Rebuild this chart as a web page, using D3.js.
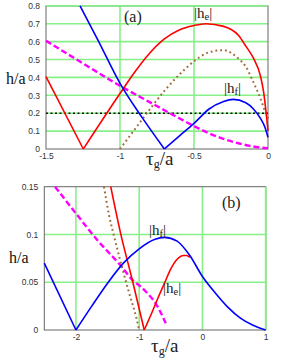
<!DOCTYPE html>
<html><head><meta charset="utf-8">
<script src="https://cdn.jsdelivr.net/npm/d3@7"></script>
<style>body{margin:0;background:#fff}svg{display:block}</style>
</head><body><svg id="c" width="286" height="361"></svg>
<script>
// ---- Panel (a) data ----
const aXTicks = [-1.5, -1, -0.5, 0];
const aXTickLabels = ["-1.5", "-1", "-0.5", "0"];
const aYTicks = [0, 0.1, 0.2, 0.3, 0.4, 0.5, 0.6, 0.7, 0.8];
const aYTickLabels = ["0", "0.1", "0.2", "0.3", "0.4", "0.5", "0.6", "0.7", "0.8"];
const aXGrid = [-1, -0.5];
const aYGrid = [0.1, 0.2, 0.3, 0.4, 0.5, 0.6, 0.7, 0.8];

const aRedX = [-1.5, -1.248, -1.0, -0.9, -0.8, -0.7, -0.6, -0.5, -0.42, -0.3, -0.2, -0.15, -0.1, -0.05, -0.03, 0];
const aRedY = [0.404, 0, 0.31, 0.43, 0.535, 0.615, 0.665, 0.69, 0.70, 0.685, 0.635, 0.575, 0.51, 0.405, 0.32, 0.1];

const aBlueX = [-1.27, -1.15, -1.0, -0.85, -0.70, -0.6, -0.5, -0.4, -0.3, -0.236, -0.15, -0.1, -0.05, -0.02, 0];
const aBlueY = [0.8, 0.61, 0.367, 0.175, 0, 0.072, 0.143, 0.222, 0.265, 0.277, 0.258, 0.225, 0.17, 0.12, 0.065];

const aMagX = [-1.5, -1.25, -1.0, -0.8, -0.6, -0.5, -0.4, -0.3, -0.2, -0.1, 0];
const aMagY = [0.605, 0.478, 0.353, 0.262, 0.172, 0.128, 0.088, 0.056, 0.032, 0.014, 0.004];

const aBrownX = [-1.0, -0.9, -0.8, -0.7, -0.6, -0.5, -0.4, -0.3, -0.2, -0.15, -0.1, -0.05, -0.02, 0];
const aBrownY = [0, 0.11, 0.22, 0.325, 0.415, 0.49, 0.54, 0.552, 0.505, 0.46, 0.375, 0.28, 0.21, 0.17];

const aBlackX = [-1.5, 0];
const aBlackY = [0.2, 0.2];

// ---- Panel (b) data ----
const bXTicks = [-2, -1, 0, 1];
const bXTickLabels = ["-2", "-1", "0", "1"];
const bYTicks = [0, 0.05, 0.1, 0.15];
const bYTickLabels = ["0", "0.05", "0.1", "0.15"];
const bXGrid = [-2, -1, 0, 1];
const bYGrid = [0.05, 0.1];

const bBlueX = [-2.5, -2.0, -1.75, -1.5, -1.25, -1.0, -0.75, -0.6, -0.4, -0.2, 0, 0.2, 0.4, 0.6, 0.8, 1.0];
const bBlueY = [0.07, 0, 0.025, 0.049, 0.07, 0.085, 0.095, 0.097, 0.093, 0.078, 0.056, 0.039, 0.024, 0.0125, 0.005, 0];

const bRedX = [-1.45, -1.3, -1.1, -0.92, -0.8, -0.7, -0.6, -0.5, -0.4, -0.3, -0.25, -0.2];
const bRedY = [0.15, 0.103, 0.05, 0, 0.018, 0.034, 0.049, 0.064, 0.074, 0.078, 0.078, 0.076];

const bMagX = [-2.33, -2.0, -1.66, -1.3, -1.1, -0.97, -0.85, -0.75, -0.65, -0.58];
const bMagY = [0.15, 0.122, 0.094, 0.068, 0.052, 0.045, 0.037, 0.029, 0.017, 0.007];

const bBrownX = [-1.556, -1.476, -1.4, -1.32, -1.26, -1.16, -1.05, -1.0];
const bBrownY = [0.15, 0.12, 0.099, 0.078, 0.063, 0.039, 0.014, 0];

// ---- drawing ----
const svg = d3.select("#c");
const GREEN = "#88f088", FRAME = "#666";

function splitAtMin(xs, ys) {
  const segs = []; let cur = [];
  xs.forEach((x, i) => {
    cur.push([x, ys[i]]);
    if (ys[i] === 0 && i > 0 && i < xs.length - 1) { segs.push(cur); cur = [[x, ys[i]]]; }
  });
  segs.push(cur);
  return segs;
}

function panel(cfg) {
  const x = d3.scaleLinear().domain(cfg.xd).range([cfg.l, cfg.r]);
  const y = d3.scaleLinear().domain(cfg.yd).range([cfg.b, cfg.t]);
  const g = svg.append("g");
  g.selectAll(".hg").data(cfg.yGrid).enter().append("line")
    .attr("x1", cfg.l).attr("x2", cfg.r).attr("y1", d => y(d)).attr("y2", d => y(d))
    .attr("stroke", GREEN).attr("stroke-width", 1.6);
  g.selectAll(".vg").data(cfg.xGrid).enter().append("line")
    .attr("y1", cfg.t).attr("y2", cfg.b).attr("x1", d => x(d)).attr("x2", d => x(d))
    .attr("stroke", GREEN).attr("stroke-width", 1.6);
  g.append("rect").attr("x", cfg.l).attr("y", cfg.t).attr("width", cfg.r - cfg.l).attr("height", cfg.b - cfg.t)
    .attr("fill", "none").attr("stroke", FRAME).attr("stroke-width", 1);
  g.selectAll(".eg").data(cfg.edgeGrid || []).enter().append("line")
    .attr("x1", d => d.v ? x(d.v[0]) : cfg.l).attr("x2", d => d.v ? x(d.v[0]) : cfg.r)
    .attr("y1", d => d.h ? y(d.h[0]) : cfg.t).attr("y2", d => d.h ? y(d.h[0]) : cfg.b)
    .attr("stroke", GREEN).attr("stroke-width", 1.6);
  const xAxis = d3.axisBottom(x).tickValues(cfg.xTicks).tickSize(0).tickPadding(4)
    .tickFormat((d, i) => cfg.xTickLabels[i]);
  const ax = g.append("g").attr("transform", `translate(0,${cfg.b})`).call(xAxis);
  ax.select(".domain").remove();
  ax.selectAll("text").attr("font-family", "Liberation Sans, Arial, sans-serif").attr("font-size", 8.5).attr("fill", "#333");
  const yAxis = d3.axisLeft(y).tickValues(cfg.yTicks).tickSize(0).tickPadding(6)
    .tickFormat((d, i) => cfg.yTickLabels[i]);
  const ay = g.append("g").attr("transform", `translate(${cfg.l},0)`).call(yAxis);
  ay.select(".domain").remove();
  ay.selectAll("text").attr("font-family", "Liberation Sans, Arial, sans-serif").attr("font-size", 8.5).attr("fill", "#333");

  const line = d3.line().x(d => x(d[0])).y(d => y(d[1])).curve(d3.curveMonotoneX);
  cfg.series.forEach(s => {
    splitAtMin(s.xs, s.ys).forEach(seg => {
      g.append("path").attr("d", line(seg)).attr("fill", "none")
        .attr("stroke", s.color).attr("stroke-width", s.w)
        .attr("stroke-dasharray", s.dash || null);
    });
  });
  const ser = "'Liberation Serif', 'Times New Roman', serif";
  g.append("text").attr("x", cfg.yLab[0]).attr("y", cfg.yLab[1])
    .attr("font-family", ser).attr("font-size", 16).attr("fill", "#111").text("h/a");
  const xt = g.append("text").attr("x", cfg.xLab[0]).attr("y", cfg.xLab[1])
    .attr("font-family", ser).attr("font-size", 19).attr("fill", "#222");
  xt.append("tspan").text("τ");
  xt.append("tspan").attr("font-size", 12).attr("dy", 3).text("g");
  xt.append("tspan").attr("dy", -3).text("/a");
  cfg.labels.forEach(lb => {
    const t = g.append("text").attr("x", lb.x).attr("y", lb.y).attr("font-family", ser)
      .attr("font-size", lb.size).attr("fill", "#222");
    if (lb.sub) {
      t.append("tspan").text("|h");
      t.append("tspan").attr("font-size", lb.size * 0.7).attr("dy", 2).text(lb.sub);
      t.append("tspan").attr("dy", -2).text("|");
    } else t.text(lb.text);
  });
}

panel({
  xd: [-1.5, 0], yd: [0, 0.8], l: 46, r: 268, t: 5.8, b: 149,
  xTicks: aXTicks, xTickLabels: aXTickLabels, yTicks: aYTicks, yTickLabels: aYTickLabels,
  xGrid: aXGrid, yGrid: aYGrid, edgeGrid: [{h: [0.8]}],
  series: [
    {xs: aBlackX, ys: aBlackY, color: "#111", w: 1.5, dash: "2,2.5"},
    {xs: aMagX, ys: aMagY, color: "#ff00ff", w: 2.4, dash: "6,3"},
    {xs: aBrownX, ys: aBrownY, color: "#a06a3a", w: 2, dash: "1.8,3"},
    {xs: aRedX, ys: aRedY, color: "#ff0000", w: 1.6},
    {xs: aBlueX, ys: aBlueY, color: "#0000ff", w: 1.6}
  ],
  yLab: [6, 84], xLab: [146, 165],
  labels: [
    {text: "(a)", x: 124, y: 22, size: 16},
    {sub: "e", x: 194, y: 18, size: 15},
    {sub: "f", x: 224, y: 93, size: 15}
  ]
});

panel({
  xd: [-2.5, 1], yd: [0, 0.15], l: 44.3, r: 265.7, t: 186.7, b: 330,
  xTicks: bXTicks, xTickLabels: bXTickLabels, yTicks: bYTicks, yTickLabels: bYTickLabels,
  xGrid: bXGrid, yGrid: bYGrid, edgeGrid: [{v: [1]}],
  series: [
    {xs: bMagX, ys: bMagY, color: "#ff00ff", w: 2.4, dash: "6,3"},
    {xs: bBrownX, ys: bBrownY, color: "#a06a3a", w: 2, dash: "1.8,3"},
    {xs: bRedX, ys: bRedY, color: "#ff0000", w: 1.6},
    {xs: bBlueX, ys: bBlueY, color: "#0000ff", w: 1.6}
  ],
  yLab: [9, 263], xLab: [151, 352],
  labels: [
    {text: "(b)", x: 222, y: 208, size: 16},
    {sub: "f", x: 149, y: 235, size: 15},
    {sub: "e", x: 163, y: 293, size: 15}
  ]
});
</script></body></html>
